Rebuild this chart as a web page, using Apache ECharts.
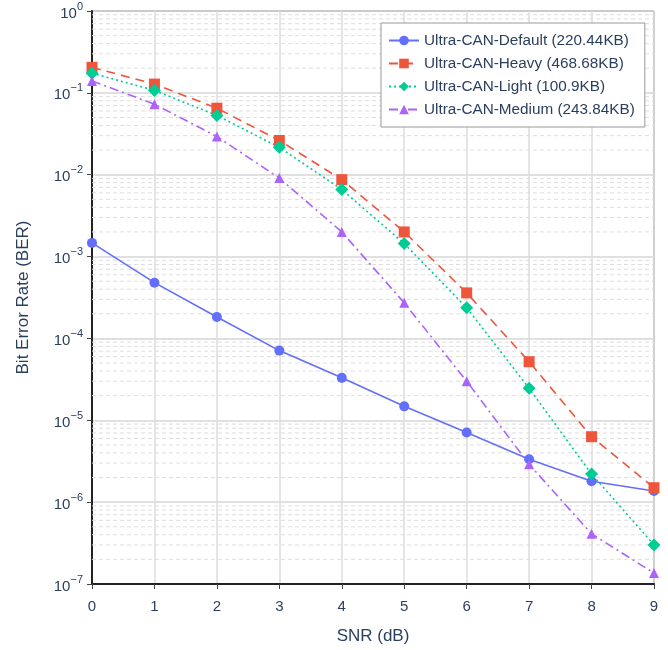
<!DOCTYPE html>
<html>
<head>
<meta charset="utf-8">
<script src="https://cdn.jsdelivr.net/npm/echarts@6/dist/echarts.min.js"></script>
<style>
  html, body { margin: 0; padding: 0; background: #fff; }
  #chart { width: 668px; height: 650px; }
</style>
</head>
<body>
<div id="chart"></div>
<script>
  // SNR points (dB)
  var snr = [0, 1, 2, 3, 4, 5, 6, 7, 8, 9];

  // BER
  var berDefault = [1.47e-3, 4.8e-4, 1.83e-4, 7.1e-5, 3.3e-5, 1.48e-5, 7.1e-6, 3.35e-6, 1.8e-6, 1.37e-6];
  var berHeavy   = [0.205, 0.128, 0.065, 0.0262, 8.7e-3, 2.0e-3, 3.6e-4, 5.2e-5, 6.3e-6, 1.5e-6];
  var berLight   = [0.174, 0.107, 0.053, 0.0216, 6.6e-3, 1.44e-3, 2.37e-4, 2.46e-5, 2.2e-6, 3.0e-7];
  var berMedium  = [0.14, 0.0728, 0.0293, 9.1e-3, 2.0e-3, 2.72e-4, 3.0e-5, 2.9e-6, 4.1e-7, 1.36e-7];

  var seriesNames = [
    'Ultra-CAN-Default (220.44KB)',
    'Ultra-CAN-Heavy (468.68KB)',
    'Ultra-CAN-Light (100.9KB)',
    'Ultra-CAN-Medium (243.84KB)'
  ];

  var textColor = '#2a3f5f';
  var font = 'Liberation Sans, Arial, sans-serif';

  function pairs(ys) {
    var out = [];
    for (var i = 0; i < snr.length; i++) out.push([snr[i], ys[i]]);
    return out;
  }

  // minor grid lines at 2..9 x 10^k, drawn as broken line segments across the x range
  var minorGrid = [];
  for (var e = -7; e < 0; e++) {
    for (var m = 2; m <= 9; m++) {
      var v = m * Math.pow(10, e);
      minorGrid.push([0, v], [9, v], [9, '-']);
    }
  }

  function yLabel(v) {
    var p = Math.round(Math.log10(v));
    var s = String(p).replace('-', '\u2212');
    return '{b|10}{s|' + s + '}';
  }

  function mkSeries(name, data, color, symbol, size, lineType) {
    return {
      name: name,
      type: 'line',
      data: pairs(data),
      symbol: symbol,
      symbolSize: size,
      showSymbol: true,
      z: 5,
      lineStyle: { color: color, width: 1.6, type: lineType },
      itemStyle: { color: color },
      emphasis: { disabled: true }
    };
  }

  var chart = echarts.init(document.getElementById('chart'));

  var option = {
    animation: false,
    backgroundColor: '#fff',
    textStyle: { fontFamily: font },
    grid: {
      left: 92, right: 14, top: 11, bottom: 65,
      show: true, borderColor: '#555', borderWidth: 1, backgroundColor: '#fff'
    },
    legend: {
      data: seriesNames,
      orient: 'vertical',
      left: 381,
      top: 23,
      padding: [10, 10, 10, 7],
      itemWidth: 30,
      itemHeight: 12,
      itemGap: 8,
      backgroundColor: '#fff',
      borderColor: '#999',
      borderWidth: 1,
      borderRadius: 0,
      textStyle: { color: textColor, fontSize: 15.3, fontFamily: font }
    },
    xAxis: {
      type: 'value',
      min: 0, max: 9, interval: 1,
      name: 'SNR (dB)',
      nameLocation: 'middle',
      nameGap: 44,
      nameTextStyle: { color: textColor, fontSize: 17, fontFamily: font },
      axisLine: { show: true, onZero: false, lineStyle: { color: '#222', width: 2 } },
      axisTick: { show: true, length: 5, lineStyle: { color: '#444' } },
      axisLabel: { color: textColor, fontSize: 15, margin: 15, fontFamily: font },
      splitLine: { show: true, lineStyle: { color: '#dcdcdc', width: 1.5 } }
    },
    yAxis: {
      type: 'log',
      logBase: 10,
      min: 1e-7, max: 1,
      name: 'Bit Error Rate (BER)',
      nameLocation: 'middle',
      nameGap: 60,
      nameTextStyle: { color: textColor, fontSize: 17, fontFamily: font },
      axisLine: { show: true, lineStyle: { color: '#222', width: 2 } },
      axisTick: { show: true, length: 5, lineStyle: { color: '#444' } },
      axisLabel: {
        formatter: yLabel,
        margin: 9,
        rich: {
          b: { color: textColor, fontSize: 15, fontFamily: font, lineHeight: 20, verticalAlign: 'bottom' },
          s: { color: textColor, fontSize: 11, fontFamily: font, lineHeight: 20, verticalAlign: 'top', padding: [0, 0, 6, 0] }
        }
      },
      splitLine: { show: true, lineStyle: { color: '#d6d6d6', width: 1.5 } }
    },
    series: [
      {
        name: 'minor',
        type: 'line',
        data: minorGrid,
        silent: true,
        symbol: 'none',
        connectNulls: false,
        z: 1,
        lineStyle: { color: '#dedede', width: 1, type: [4, 3] },
        emphasis: { disabled: true }
      },
      mkSeries(seriesNames[0], berDefault, '#636efa', 'circle', 10, 'solid'),
      mkSeries(seriesNames[1], berHeavy, '#ef553b', 'rect', 11, [9, 6]),
      mkSeries(seriesNames[2], berLight, '#00cc96', 'diamond', 13, [2, 3]),
      mkSeries(seriesNames[3], berMedium, '#ab63fa', 'triangle', 10, [9, 4, 2, 4])
    ]
  };

  chart.setOption(option);
</script>
</body>
</html>
